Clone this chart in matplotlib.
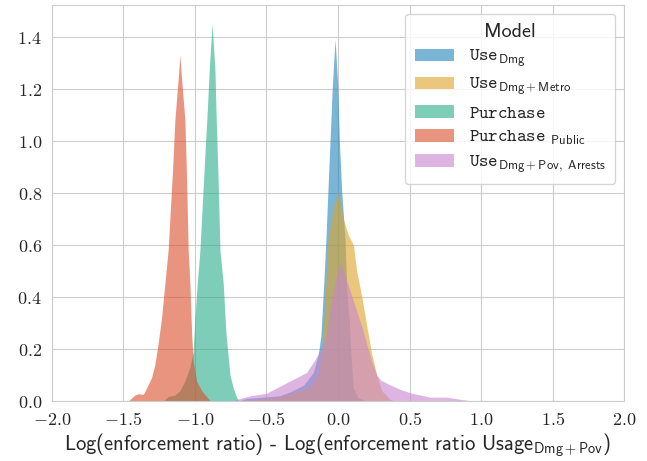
import matplotlib
matplotlib.use("Agg")
import matplotlib.pyplot as plt
import seaborn as sns
from matplotlib.ticker import FuncFormatter

# density curves (x = log ratio difference, y = density)
use_dmg_x = [-0.70, -0.64, -0.41, -0.336, -0.243, -0.173, -0.138, -0.12, -0.10, -0.085,
             -0.07, -0.056, -0.04, -0.021, -0.002, 0.009, 0.026, 0.049, 0.061, 0.079,
             0.091, 0.107, 0.14, 0.20]
use_dmg_y = [0.0, 0.01, 0.02, 0.035, 0.06, 0.11, 0.18, 0.25, 0.45, 0.62,
             0.82, 1.00, 1.21, 1.39, 1.21, 1.00, 0.80, 0.62, 0.42, 0.30,
             0.17, 0.05, 0.013, 0.0]

use_metro_x = [-0.70, -0.41, -0.20, -0.14, -0.11, -0.09, -0.07, -0.035, 0.0, 0.037,
               0.07, 0.107, 0.13, 0.166, 0.20, 0.236, 0.27, 0.305, 0.364, 0.40]
use_metro_y = [0.0, 0.015, 0.05, 0.10, 0.20, 0.40, 0.62, 0.74, 0.80, 0.70,
               0.64, 0.60, 0.50, 0.40, 0.29, 0.18, 0.10, 0.04, 0.006, 0.0]

purchase_x = [-1.22, -1.187, -1.14, -1.105, -1.07, -1.035, -1.012, -1.0, -0.984, -0.965,
              -0.93, -0.915, -0.90, -0.88, -0.86, -0.852, -0.84, -0.825, -0.802, -0.783,
              -0.755, -0.732, -0.708, -0.69]
purchase_y = [0.0, 0.018, 0.023, 0.04, 0.077, 0.13, 0.19, 0.32, 0.45, 0.58,
              0.95, 1.10, 1.27, 1.45, 1.27, 1.10, 0.89, 0.58, 0.45, 0.26,
              0.10, 0.05, 0.013, 0.0]

public_x = [-1.466, -1.42, -1.396, -1.36, -1.338, -1.303, -1.28, -1.257, -1.233, -1.21,
            -1.187, -1.156, -1.14, -1.115, -1.105, -1.095, -1.07, -1.06, -1.047, -1.035,
            -1.023, -1.012, -0.988, -0.953, -0.907, -0.89]
public_y = [0.0, 0.023, 0.028, 0.026, 0.05, 0.09, 0.14, 0.22, 0.32, 0.45,
            0.58, 0.89, 1.08, 1.25, 1.33, 1.25, 1.08, 0.89, 0.58, 0.45,
            0.26, 0.154, 0.077, 0.04, 0.01, 0.0]

arrests_x = [-0.75, -0.685, -0.615, -0.5, -0.336, -0.22, -0.16, -0.09, -0.056, -0.02,
             0.014, 0.05, 0.08, 0.11, 0.14, 0.17, 0.20, 0.236, 0.27, 0.30,
             0.364, 0.434, 0.503, 0.643, 0.76, 0.875, 0.95]
arrests_y = [0.0, 0.01, 0.02, 0.03, 0.077, 0.11, 0.16, 0.23, 0.36, 0.46,
             0.53, 0.48, 0.43, 0.38, 0.33, 0.28, 0.22, 0.15, 0.10, 0.08,
             0.062, 0.045, 0.032, 0.015, 0.015, 0.005, 0.0]

labels = [r"$\mathtt{Use}_{\mathsf{Dmg}}$",
          r"$\mathtt{Use}_{\mathsf{Dmg+Metro}}$",
          r"$\mathtt{Purchase}$",
          r"$\mathtt{Purchase}\ _{\mathsf{Public}}$",
          r"$\mathtt{Use}_{\mathsf{Dmg+Pov,\ Arrests}}$"]
colors = ["#2185bb", "#dfa326", "#28ad89", "#d94d28", "#c885cf"]

sns.set_style("whitegrid")
plt.rcParams["mathtext.fontset"] = "cm"

fig, ax = plt.subplots(figsize=(6.47, 4.61), dpi=100)

curves = [(use_dmg_x, use_dmg_y), (use_metro_x, use_metro_y),
          (purchase_x, purchase_y), (public_x, public_y), (arrests_x, arrests_y)]
for (xs, ys), c, lab in zip(curves, colors, labels):
    ax.fill_between(xs, ys, color=c, alpha=0.6, lw=0, label=lab)

ax.set_xlim(-2.0, 2.0)
ax.set_ylim(0, 1.523)
ax.set_xticks([-2.0, -1.5, -1.0, -0.5, 0.0, 0.5, 1.0, 1.5, 2.0])
ax.set_yticks([0.0, 0.2, 0.4, 0.6, 0.8, 1.0, 1.2, 1.4])
fmt = FuncFormatter(lambda v, p: r"$%.1f$" % v)
ax.xaxis.set_major_formatter(fmt)
ax.yaxis.set_major_formatter(fmt)
ax.tick_params(labelsize=13)

ax.set_xlabel(r"Log(enforcement ratio) - Log(enforcement ratio Usage$_{\mathsf{Dmg+Pov}}$)",
              fontfamily="cmss10", fontsize=14.8, labelpad=2)

leg = ax.legend(title="Model", loc="upper right", fontsize=13,
                title_fontproperties={"family": "cmss10", "size": 14.5},
                frameon=True, handlelength=2.2, labelspacing=0.34, borderpad=0.52)

fig.subplots_adjust(left=0.08, right=0.965, top=0.99, bottom=0.13)
fig.savefig("out.png", dpi=100)
